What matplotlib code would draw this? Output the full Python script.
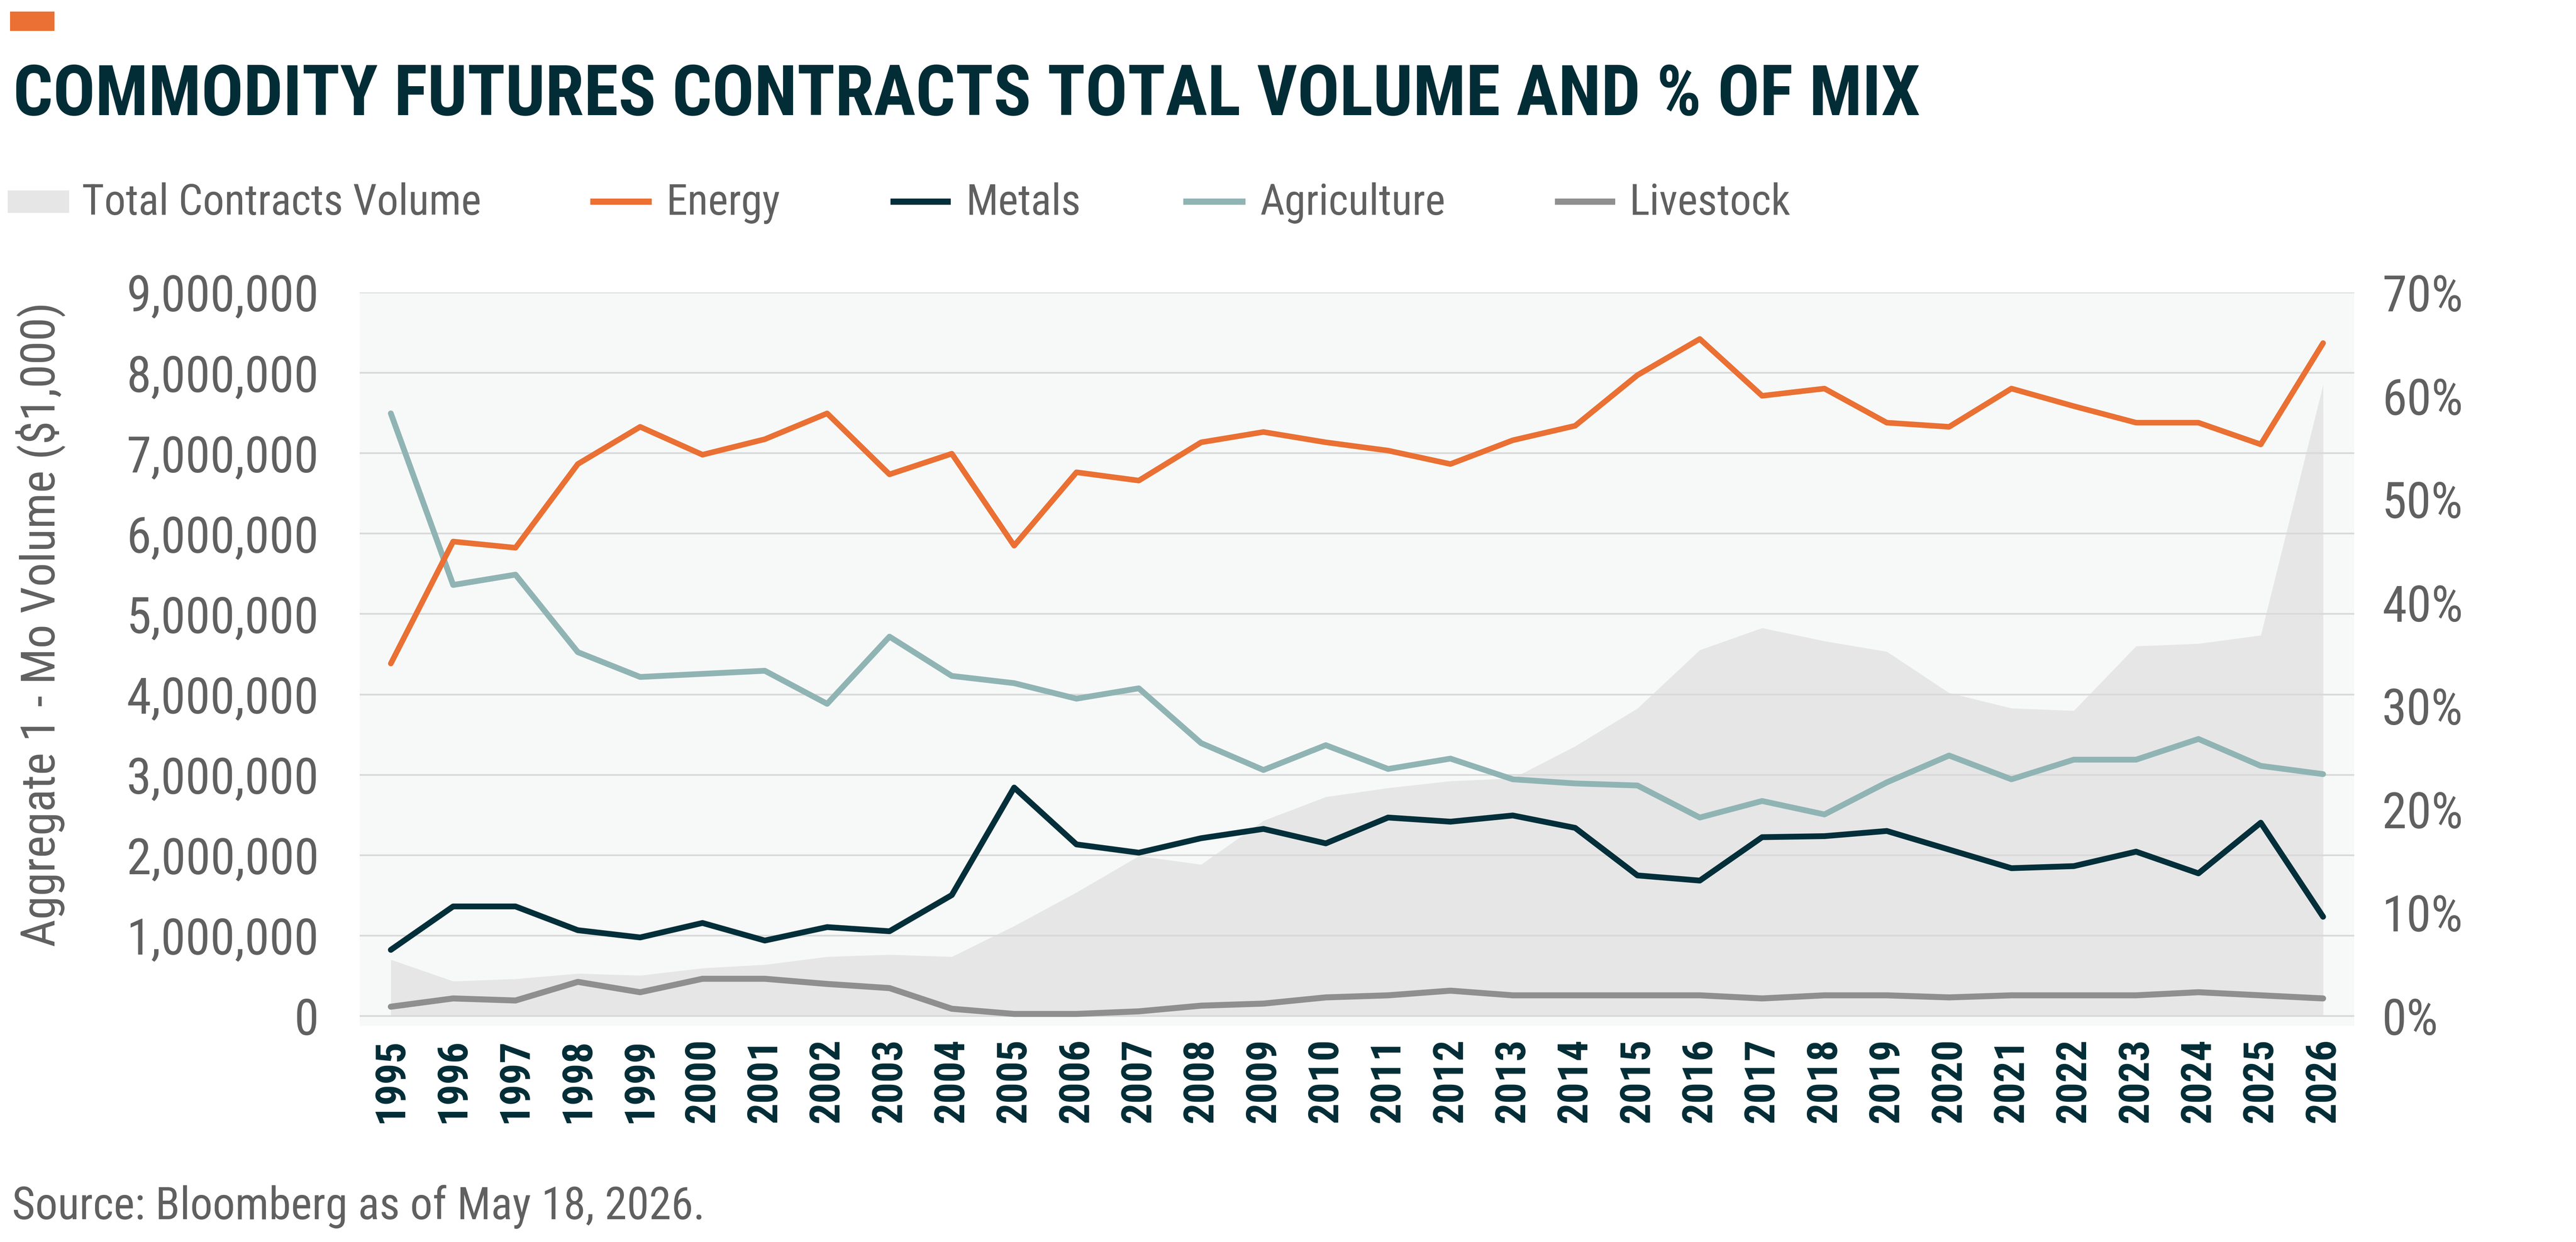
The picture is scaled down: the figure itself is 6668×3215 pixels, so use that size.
import matplotlib
matplotlib.use("Agg")
import matplotlib.pyplot as plt
from matplotlib import font_manager as fm
from matplotlib.lines import Line2D
from matplotlib.patches import Rectangle
from matplotlib.ticker import FuncFormatter

# ---------------- data ----------------
years = list(range(1995, 2027))
year_labels = [str(y) for y in years]

total_volume = [702000, 433000, 462000, 529000, 505000, 596000, 639000, 738000,
                764000, 738000, 1120000, 1538000, 1990000, 1885000, 2430000, 2726000,
                2837000, 2923000, 2957000, 3356000, 3827000, 4553000, 4827000, 4664000,
                4533000, 4019000, 3829000, 3798000, 4601000, 4632000, 4736000, 7851000]

energy = [34.1, 45.9, 45.3, 53.4, 57.0, 54.3, 55.8, 58.3, 52.4, 54.4, 45.5, 52.6,
          51.8, 55.5, 56.5, 55.5, 54.7, 53.4, 55.7, 57.1, 62.0, 65.5, 60.0, 60.7,
          57.4, 57.0, 60.7, 59.0, 57.4, 57.4, 55.3, 65.1]

metals = [6.4, 10.6, 10.6, 8.3, 7.6, 9.0, 7.3, 8.6, 8.2, 11.7, 22.1, 16.6,
          15.8, 17.2, 18.1, 16.7, 19.2, 18.8, 19.4, 18.2, 13.6, 13.1, 17.3, 17.4,
          17.9, 16.1, 14.3, 14.5, 15.9, 13.8, 18.7, 9.6]

agriculture = [58.3, 41.7, 42.7, 35.2, 32.8, 33.1, 33.4, 30.2, 36.7, 32.9, 32.2, 30.7,
               31.7, 26.4, 23.8, 26.2, 23.9, 24.9, 22.9, 22.5, 22.3, 19.2, 20.8, 19.5,
               22.6, 25.2, 22.9, 24.8, 24.8, 26.8, 24.2, 23.4]

livestock = [0.9, 1.7, 1.5, 3.3, 2.3, 3.6, 3.6, 3.1, 2.7, 0.7, 0.2, 0.2,
             0.45, 1.0, 1.2, 1.8, 2.0, 2.45, 2.0, 2.0, 2.0, 2.0, 1.7, 2.0,
             2.0, 1.8, 2.0, 2.0, 2.0, 2.3, 2.0, 1.7]

left_ticks = list(range(0, 9000001, 1000000))
right_ticks = list(range(0, 71, 10))

title_text = "COMMODITY FUTURES CONTRACTS TOTAL VOLUME AND % OF MIX"
source_text = "Source: Bloomberg as of May 18, 2026."
ylabel_text = "Aggregate 1 - Mo Volume ($1,000)"
legend_names = ["Total Contracts Volume", "Energy", "Metals", "Agriculture", "Livestock"]

# ---------------- styles ----------------
C_ORANGE = "#ea7033"
C_METALS = "#032f3a"
C_AGRI = "#90b4b4"
C_LIVE = "#8f8f8f"
C_AREA = "#e6e6e6"
C_BG = "#f7f9f8"
C_GRID = "#d9d9d9"
C_TITLE = "#032d36"
C_TEXT = "#606060"

avail = {f.name for f in fm.fontManager.ttflist}
if "Liberation Sans Narrow" in avail:
    NARROW = "Liberation Sans Narrow"
    k = 1.0
elif "Roboto Condensed" in avail:
    NARROW = "Roboto Condensed"
    k = 0.95
else:
    NARROW = "Liberation Sans"
    k = 0.84

W, H = 6668, 3215
DPI = 400
fig = plt.figure(figsize=(W / DPI, H / DPI), dpi=DPI)
fig.patch.set_facecolor("white")

def fx(px):
    return px / W

def fy(py):
    return 1 - py / H

ax_left, ax_right, ax_top, ax_bottom = 931, 6094, 757, 2656
ax = fig.add_axes([fx(ax_left), fy(ax_bottom), fx(ax_right - ax_left), (ax_bottom - ax_top) / H])
ax.set_facecolor(C_BG)
ax.fill_between(years, 0, total_volume, color=C_AREA, lw=0, zorder=1)
ax.set_axisbelow("line")
ax.yaxis.grid(True, color=C_GRID, lw=0.8)
ax.xaxis.grid(False)
ymin_left = -125000
ax.set_ylim(ymin_left, 9000000)
ax.set_xlim(1994.5, 2026.5)
ax.set_yticks(left_ticks)
ax.yaxis.set_major_formatter(FuncFormatter(lambda v, p: f"{int(round(v)):,}"))
ax.set_xticks(years)
ax.set_xticklabels(year_labels, rotation=90, fontfamily=NARROW, fontweight="bold",
                   fontsize=20.5 * k, color=C_TITLE, va="top", ha="center")
for lab in ax.get_yticklabels():
    lab.set_fontfamily(NARROW)
    lab.set_fontsize(24.5 * k)
    lab.set_color(C_TEXT)
ax.tick_params(axis="x", length=0, pad=5.8)
ax.tick_params(axis="y", length=0, pad=19)
for s in ax.spines.values():
    s.set_visible(False)

ax2 = ax.twinx()
ax2.set_ylim(ymin_left / 9000000 * 70, 70)
ax2.set_yticks(right_ticks)
ax2.yaxis.set_major_formatter(FuncFormatter(lambda v, p: f"{int(round(v))}%"))
for lab in ax2.get_yticklabels():
    lab.set_fontfamily(NARROW)
    lab.set_fontsize(24.5 * k)
    lab.set_color(C_TEXT)
ax2.tick_params(axis="y", length=0, pad=13)
for s in ax2.spines.values():
    s.set_visible(False)

line_kw = dict(solid_capstyle="round", solid_joinstyle="round")
ax2.plot(years, livestock, color=C_LIVE, lw=2.8, zorder=3, **line_kw)
ax2.plot(years, agriculture, color=C_AGRI, lw=2.7, zorder=4, **line_kw)
ax2.plot(years, metals, color=C_METALS, lw=2.7, zorder=5, **line_kw)
ax2.plot(years, energy, color=C_ORANGE, lw=2.6, zorder=6, **line_kw)

# ---------------- header ----------------
fig.add_artist(Rectangle((fx(26), fy(80)), fx(115), 50 / H, transform=fig.transFigure,
                         facecolor=C_ORANGE, edgecolor="none"))
fig.text(fx(34), fy(298), title_text, fontfamily=NARROW, fontweight="bold",
         fontsize=34.3 * k, color=C_TITLE, ha="left", va="baseline")

# legend (manual)
leg_base = fy(556)
leg_mid = fy(522)
fig.add_artist(Rectangle((fx(20), fy(551)), fx(159), 58 / H, transform=fig.transFigure,
                         facecolor=C_AREA, edgecolor="none"))
fig.text(fx(212), leg_base, legend_names[0], fontfamily=NARROW, fontsize=21 * k,
         color=C_TEXT, ha="left", va="baseline")
leg_items = [(1528, 1687, 1724, C_ORANGE, legend_names[1]),
             (2305, 2461, 2500, C_METALS, legend_names[2]),
             (3063, 3224, 3262, C_AGRI, legend_names[3]),
             (4025, 4181, 4217, C_LIVE, legend_names[4])]
for x0, x1, xt, col, name in leg_items:
    fig.add_artist(Line2D([fx(x0), fx(x1)], [leg_mid, leg_mid], transform=fig.transFigure,
                          color=col, lw=2.9, solid_capstyle="butt"))
    fig.text(fx(xt), leg_base, name, fontfamily=NARROW, fontsize=21 * k,
             color=C_TEXT, ha="left", va="baseline")

# y label
fig.text(fx(105), fy(1616), ylabel_text, fontfamily=NARROW, fontsize=23.4 * k,
         color=C_TEXT, rotation=90, ha="center", va="center")

# source
fig.text(fx(31), fy(3156), source_text, fontfamily=NARROW, fontsize=22 * k,
         color=C_TEXT, ha="left", va="baseline")

fig.savefig("out.png", dpi=DPI, facecolor="white")
